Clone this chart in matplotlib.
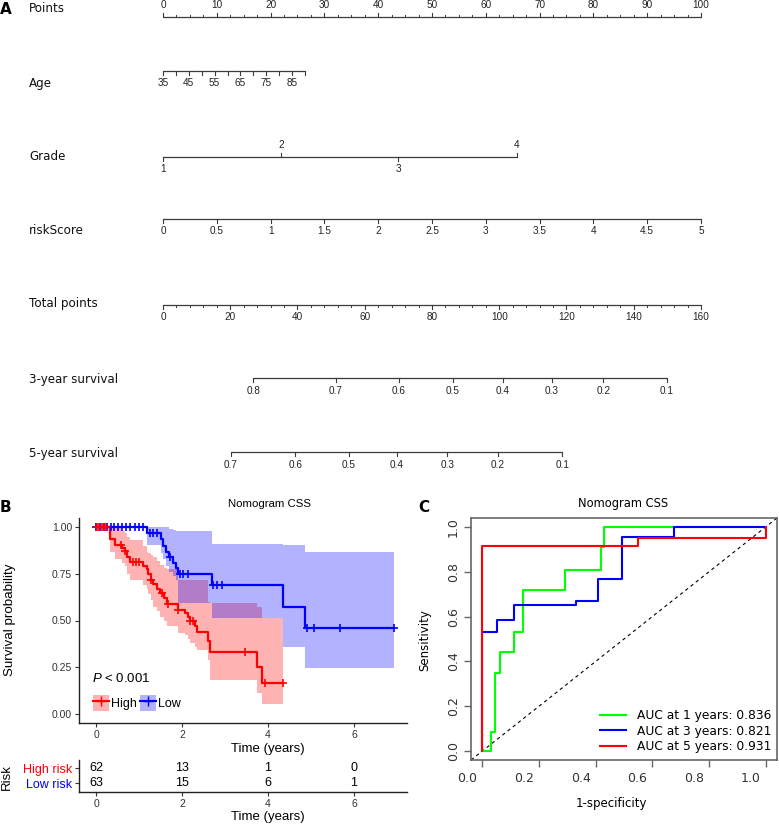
import numpy as np
import matplotlib.pyplot as plt
from matplotlib.lines import Line2D
from matplotlib.patches import Patch
from matplotlib.transforms import ScaledTranslation

plt.rcParams['font.family'] = ['Liberation Sans', 'DejaVu Sans']
plt.rcParams['mathtext.fontset'] = 'custom'
plt.rcParams['mathtext.it'] = 'Liberation Sans:italic'
plt.rcParams['mathtext.rm'] = 'Liberation Sans'

# ---------- nomogram (A) ----------
points_major = np.arange(0, 101, 10)
points_minor = np.arange(0, 100.1, 2.5)
age_ticks = np.arange(35, 91, 5)
age_labels = [35, 45, 55, 65, 75, 85]
age_points_max = 26.4            # points given at age 90
grade_vals = [1, 2, 3, 4]
grade_points = [0, 21.9, 43.7, 65.8]
risk_vals = np.arange(0, 5.01, 0.5)
total_major = np.arange(0, 161, 20)
total_minor = np.arange(0, 160.1, 4)
surv3_vals = [0.8, 0.7, 0.6, 0.5, 0.4, 0.3, 0.2, 0.1]
surv3_total = [26.8, 51.4, 70.2, 86.2, 101.1, 115.7, 130.9, 149.9]
surv5_vals = [0.7, 0.6, 0.5, 0.4, 0.3, 0.2, 0.1]
surv5_total = [20.2, 39.3, 55.3, 69.6, 84.5, 99.6, 118.7]

# ---------- Kaplan-Meier (B) ----------
t_high = [0, 0.33, 0.44, 0.60, 0.67, 0.71, 0.79, 1.10, 1.18, 1.22, 1.29, 1.33, 1.41,
          1.49, 1.57, 1.64, 1.91, 2.07, 2.15, 2.19, 2.30, 2.34, 2.61, 2.65, 3.74, 3.85, 4.36]
s_high = [1.0, 0.935, 0.903, 0.887, 0.871, 0.839, 0.815, 0.79, 0.774, 0.75, 0.72, 0.694, 0.667,
          0.645, 0.62, 0.59, 0.555, 0.54, 0.52, 0.50, 0.47, 0.44, 0.39, 0.333, 0.25, 0.167, 0.167]
up_high = [1.0, 1.0, 1.0, 0.98, 0.97, 0.95, 0.93, 0.90, 0.87, 0.86, 0.85, 0.84, 0.82,
           0.80, 0.78, 0.775, 0.72, 0.72, 0.72, 0.72, 0.72, 0.72, 0.60, 0.595, 0.57, 0.514, 0.514]
lo_high = [1.0, 0.87, 0.83, 0.81, 0.79, 0.75, 0.72, 0.69, 0.67, 0.64, 0.61, 0.57, 0.55,
           0.52, 0.50, 0.47, 0.435, 0.42, 0.40, 0.38, 0.36, 0.344, 0.29, 0.183, 0.113, 0.054, 0.054]
cens_high_t = [0.03, 0.08, 0.13, 0.18, 0.23, 0.59, 0.68, 0.85, 0.93, 1.0, 1.29, 1.53, 1.68,
               1.91, 2.19, 2.26, 3.47, 3.93, 4.36]

t_low = [0, 1.18, 1.50, 1.56, 1.62, 1.70, 1.80, 1.85, 1.90, 2.69, 4.36, 4.86, 6.94]
s_low = [1.0, 0.968, 0.935, 0.90, 0.87, 0.84, 0.81, 0.78, 0.75, 0.69, 0.575, 0.46, 0.46]
up_low = [1.0, 1.0, 1.0, 1.0, 1.0, 0.99, 0.985, 0.98, 0.98, 0.91, 0.905, 0.865, 0.865]
lo_low = [1.0, 0.905, 0.86, 0.83, 0.79, 0.76, 0.74, 0.72, 0.595, 0.514, 0.36, 0.245, 0.245]
cens_low_t = [0.0, 0.1, 0.18, 0.26, 0.34, 0.42, 0.5, 0.6, 0.7, 0.8, 0.9, 1.0, 1.1,
              1.25, 1.33, 1.41, 1.72, 1.95, 2.03, 2.15, 2.73, 2.81, 2.93, 4.9, 5.06, 5.67, 6.94]

risk_times = [0, 2, 4, 6]
risk_high = [62, 13, 1, 0]
risk_low = [63, 15, 6, 1]

# ---------- time ROC (C) ----------
fpr_1 = [0, 0.031, 0.031, 0.045, 0.045, 0.064, 0.064, 0.111, 0.111, 0.145, 0.145,
         0.292, 0.292, 0.418, 0.418, 0.43, 0.43, 1.0]
tpr_1 = [0, 0, 0.086, 0.086, 0.35, 0.35, 0.44, 0.44, 0.53, 0.53, 0.717,
         0.717, 0.808, 0.808, 0.912, 0.912, 1.0, 1.0]
fpr_3 = [0, 0, 0.053, 0.053, 0.113, 0.113, 0.33, 0.33, 0.408, 0.408, 0.492, 0.492, 0.677, 0.677, 1.0]
tpr_3 = [0, 0.533, 0.533, 0.585, 0.585, 0.652, 0.652, 0.671, 0.671, 0.767, 0.767, 0.954, 0.954, 1.0, 1.0]
fpr_5 = [0, 0, 0.548, 0.548, 1.0, 1.0]
tpr_5 = [0, 0.917, 0.917, 0.95, 0.95, 1.0]
auc_labels = ['AUC at 1 years: 0.836', 'AUC at 3 years: 0.821', 'AUC at 5 years: 0.931']

W, H = 779, 827
fig = plt.figure(figsize=(W / 100, H / 100), dpi=100)


def px_axes(x0, y0, x1, y1):
    return fig.add_axes([x0 / W, 1 - y1 / H, (x1 - x0) / W, (y1 - y0) / H])


def ftext(x, y, s, **kw):
    fig.text(x / W, 1 - y / H, s, **kw)


def step_value(times, values, t):
    return values[np.searchsorted(times, t, side='right') - 1]


# ================= A: nomogram =================
ax = px_axes(0, 0, W, 480)
pp = 5.38   # pixels per point
ax.set_xlim(-163 / pp, (W - 163) / pp)
ax.set_ylim(480, 0)
ax.axis('off')
LC = '#3a3a3a'
TK = dict(fontsize=7.2, ha='center', va='center', color='#222222')


def scale(y, pos, labels, dirs, minor=None, major_len=3.6):
    ax.plot([min(pos), max(pos)], [y, y], color=LC, lw=0.9, solid_capstyle='butt')
    if minor is not None:
        for p in minor:
            ax.plot([p, p], [y, y + dirs[0] * 2], color=LC, lw=0.7)
    for p, lab, d in zip(pos, labels, dirs):
        ax.plot([p, p], [y, y + d * major_len], color=LC, lw=0.8)
        if lab != '':
            ax.text(p, y + d * 12.5, lab, **TK)


scale(17, points_major, [str(v) for v in points_major], [-1] * len(points_major),
      minor=points_minor, major_len=4)
age_pos = (age_ticks - 35) / (90 - 35) * age_points_max
scale(71, age_pos, [str(a) if a in age_labels else '' for a in age_ticks], [1] * len(age_ticks))
scale(157, grade_points, [str(g) for g in grade_vals], [1, -1, 1, -1])
scale(219, risk_vals / 5 * 100, [f'{v:g}' for v in risk_vals], [1] * len(risk_vals))
scale(305, total_major / 160 * 100, [str(v) for v in total_major], [1] * len(total_major),
      minor=total_minor / 160 * 100)
scale(378, np.array(surv3_total) / 160 * 100, [f'{v:g}' for v in surv3_vals], [1] * len(surv3_vals))
scale(452, np.array(surv5_total) / 160 * 100, [f'{v:g}' for v in surv5_vals], [1] * len(surv5_vals))

row_names = ['Points', 'Age', 'Grade', 'riskScore', 'Total points', '3-year survival', '5-year survival']
row_y = [8, 83, 157, 231, 304, 379, 453]
for name, yy in zip(row_names, row_y):
    ax.text(-134 / pp, yy, name, fontsize=8.6, family='DejaVu Sans', ha='left', va='center', color='#111111')

ftext(0, 10, 'A', fontsize=11, fontweight='bold', family='DejaVu Sans', ha='left', va='center')
ftext(0, 508, 'B', fontsize=11, fontweight='bold', family='DejaVu Sans', ha='left', va='center')
ftext(418, 508, 'C', fontsize=11, fontweight='bold', family='DejaVu Sans', ha='left', va='center')

# ================= B: survival curves =================
axB = px_axes(79, 518, 407, 723)
xl = ((79 - 96) / 43, (407 - 96) / 43)
axB.set_xlim(*xl)
axB.set_ylim(-0.05, 1.05)
axB.fill_between(t_high, lo_high, up_high, step='post', color='red', alpha=0.3, lw=0)
axB.fill_between(t_low, lo_low, up_low, step='post', color='blue', alpha=0.3, lw=0)
axB.step(t_low, s_low, where='post', color='blue', lw=1.6)
axB.step(t_high, s_high, where='post', color='red', lw=1.6)
axB.plot(cens_low_t, [step_value(t_low, s_low, c) for c in cens_low_t],
         ls='none', marker='+', ms=6, mew=1.2, color='blue')
axB.plot(cens_high_t, [step_value(t_high, s_high, c) for c in cens_high_t],
         ls='none', marker='+', ms=6, mew=1.2, color='red')
for s in ['top', 'right']:
    axB.spines[s].set_visible(False)
for s in ['left', 'bottom']:
    axB.spines[s].set_color('#222222')
    axB.spines[s].set_linewidth(1.0)
axB.set_xticks(risk_times)
axB.set_yticks([0, 0.25, 0.5, 0.75, 1.0])
axB.set_yticklabels(['0.00', '0.25', '0.50', '0.75', '1.00'])
axB.tick_params(length=3, width=0.8, color='#333333', labelsize=7.5, labelcolor='#333333', pad=2)
axB.text(-0.09, 0.188, r'$\it{P}$ < 0.001', fontsize=9.5, ha='left', va='center')
handles = [(Patch(facecolor='red', alpha=0.3, lw=0), Line2D([], [], color='red', marker='+', lw=1.5, ms=7)),
           (Patch(facecolor='blue', alpha=0.3, lw=0), Line2D([], [], color='blue', marker='+', lw=1.5, ms=7))]
axB.legend(handles, ['High', 'Low'], ncol=2, loc='center left', frameon=False,
           bbox_to_anchor=(93 / W, 1 - 703 / H), bbox_transform=fig.transFigure,
           fontsize=9, handlelength=1.3, handleheight=1.5, handletextpad=0.15,
           columnspacing=0.2, borderpad=0, borderaxespad=0)
ftext(270, 504, 'Nomogram CSS', fontsize=8.2, ha='center', va='center')
ftext(268, 749, 'Time (years)', fontsize=9.5, ha='center', va='center')
ftext(10, 620, 'Survival probability', fontsize=9.6, rotation=90, ha='center', va='center')

# risk table
axR = px_axes(79, 760, 407, 792)
axR.set_xlim(*xl)
axR.set_ylim(0, 1)
for t, a, b in zip(risk_times, risk_high, risk_low):
    axR.text(t, 0.75, str(a), fontsize=9, ha='center', va='center')
    axR.text(t, 0.28, str(b), fontsize=9, ha='center', va='center')
for s in ['top', 'right']:
    axR.spines[s].set_visible(False)
for s in ['left', 'bottom']:
    axR.spines[s].set_color('#222222')
    axR.spines[s].set_linewidth(1.0)
axR.set_xticks(risk_times)
axR.set_yticks([0.75, 0.28])
axR.set_yticklabels(['High risk', 'Low risk'])
axR.tick_params(length=3, width=0.8, color='#333333', labelsize=7.5, labelcolor='#333333', pad=2)
axR.tick_params(axis='y', labelsize=9)
ylabs = axR.get_yticklabels()
ylabs[0].set_color('red')
ylabs[1].set_color('blue')
ftext(268, 817, 'Time (years)', fontsize=9.5, ha='center', va='center')
ftext(7, 777, 'Risk', fontsize=9.5, rotation=90, ha='center', va='center')

# ================= C: ROC =================
axC = px_axes(471, 518, 777, 760)
axC.set_xlim(-0.04, 1.04)
axC.set_ylim(-0.04, 1.04)
axC.axline((0, 0), (1, 1), color='black', lw=0.8, ls=(0, (3, 3)))
axC.plot(fpr_1, tpr_1, color='#00ff00', lw=1.5)
axC.plot(fpr_3, tpr_3, color='#0000ff', lw=1.5)
axC.plot(fpr_5, tpr_5, color='#ff0000', lw=1.5)
for s in axC.spines.values():
    s.set_color('#666666')
    s.set_linewidth(1.2)
ticks = [0, 0.2, 0.4, 0.6, 0.8, 1.0]
axC.set_xticks(ticks)
axC.set_yticks(ticks)
axC.set_xticklabels([f'{v:.1f}' for v in ticks], family='DejaVu Sans')
axC.set_yticklabels([f'{v:.1f}' for v in ticks], family='DejaVu Sans', rotation=90, va='center')
axC.tick_params(length=5, width=1.0, color='#666666', labelsize=9, labelcolor='#333333')
axC.tick_params(axis='x', pad=4)
axC.tick_params(axis='y', pad=3)
shift = ScaledTranslation(-0.15, 0, fig.dpi_scale_trans)
for lab in axC.get_xticklabels():
    lab.set_transform(lab.get_transform() + shift)
leg_handles = [Line2D([], [], color=c, lw=1.5) for c in ['#00ff00', '#0000ff', '#ff0000']]
axC.legend(leg_handles, auc_labels, loc='lower right', frameon=False,
           bbox_to_anchor=(771 / W, 1 - 753 / H), bbox_transform=fig.transFigure,
           prop={'family': 'DejaVu Sans', 'size': 8.8}, handlelength=2.1, handletextpad=0.9,
           labelspacing=0.2, borderpad=0, borderaxespad=0)
ftext(623, 503, 'Nomogram CSS', fontsize=8.3, family='DejaVu Sans', ha='center', va='center')
ftext(611, 803, '1-specificity', fontsize=8.5, family='DejaVu Sans', ha='center', va='center')
ftext(425, 640, 'Sensitivity', fontsize=8.5, family='DejaVu Sans', rotation=90, ha='center', va='center')

fig.savefig('out.png', dpi=100)
